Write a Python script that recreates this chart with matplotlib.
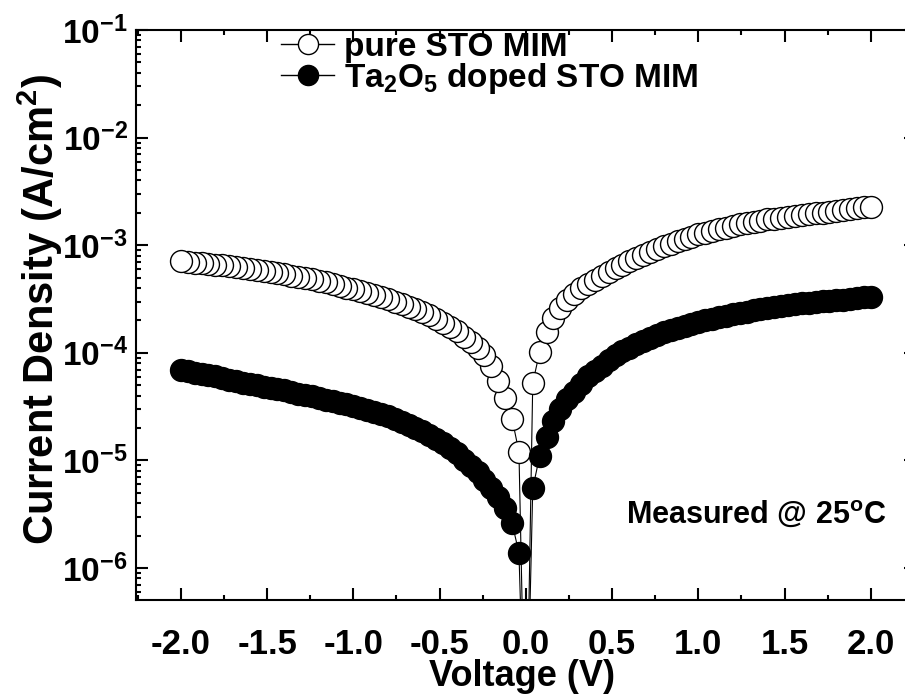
import numpy as np
import matplotlib
matplotlib.use("Agg")
from matplotlib import pyplot as plt
from matplotlib.lines import Line2D
from matplotlib.ticker import MultipleLocator, LogLocator, NullFormatter, FuncFormatter, FormatStrFormatter

plt.rcParams['font.family'] = 'Liberation Sans'
plt.rcParams['font.weight'] = 'bold'
plt.rcParams['mathtext.fontset'] = 'custom'
plt.rcParams['mathtext.rm'] = 'Liberation Sans'
plt.rcParams['mathtext.bf'] = 'Liberation Sans:bold'
plt.rcParams['mathtext.default'] = 'regular'

# bias sweep, 0.04 V steps (V)
VOLTAGE = [-2.00, -1.96, -1.92, -1.88, -1.84, -1.80, -1.76, -1.72, -1.68, -1.64,
           -1.60, -1.56, -1.52, -1.48, -1.44, -1.40, -1.36, -1.32, -1.28, -1.24,
           -1.20, -1.16, -1.12, -1.08, -1.04, -1.00, -0.96, -0.92, -0.88, -0.84,
           -0.80, -0.76, -0.72, -0.68, -0.64, -0.60, -0.56, -0.52, -0.48, -0.44,
           -0.40, -0.36, -0.32, -0.28, -0.24, -0.20, -0.16, -0.12, -0.08, -0.04,
           0.00,
           0.04, 0.08, 0.12, 0.16, 0.20, 0.24, 0.28, 0.32, 0.36, 0.40,
           0.44, 0.48, 0.52, 0.56, 0.60, 0.64, 0.68, 0.72, 0.76, 0.80,
           0.84, 0.88, 0.92, 0.96, 1.00, 1.04, 1.08, 1.12, 1.16, 1.20,
           1.24, 1.28, 1.32, 1.36, 1.40, 1.44, 1.48, 1.52, 1.56, 1.60,
           1.64, 1.68, 1.72, 1.76, 1.80, 1.84, 1.88, 1.92, 1.96, 2.00]

# current density (A/cm2), pure STO MIM
J_PURE = [7.08e-4, 6.98e-4, 6.89e-4, 6.79e-4, 6.70e-4, 6.61e-4, 6.49e-4, 6.37e-4, 6.25e-4, 6.14e-4,
          6.03e-4, 5.89e-4, 5.75e-4, 5.62e-4, 5.50e-4, 5.37e-4, 5.22e-4, 5.08e-4, 4.94e-4, 4.81e-4,
          4.68e-4, 4.51e-4, 4.35e-4, 4.19e-4, 4.04e-4, 3.89e-4, 3.73e-4, 3.58e-4, 3.44e-4, 3.30e-4,
          3.16e-4, 2.99e-4, 2.83e-4, 2.68e-4, 2.54e-4, 2.40e-4, 2.23e-4, 2.07e-4, 1.91e-4, 1.74e-4,
          1.58e-4, 1.41e-4, 1.26e-4, 1.10e-4, 9.55e-5, 7.59e-5, 5.50e-5, 3.80e-5, 2.45e-5, 1.20e-5,
          1.0e-8,
          5.25e-5, 1.02e-4, 1.55e-4, 2.09e-4, 2.63e-4, 3.09e-4, 3.55e-4, 3.98e-4, 4.37e-4, 4.79e-4,
          5.20e-4, 5.65e-4, 6.11e-4, 6.58e-4, 7.08e-4, 7.55e-4, 8.05e-4, 8.59e-4, 9.16e-4, 9.77e-4,
          1.03e-3, 1.09e-3, 1.15e-3, 1.20e-3, 1.26e-3, 1.31e-3, 1.36e-3, 1.41e-3, 1.46e-3, 1.51e-3,
          1.56e-3, 1.60e-3, 1.64e-3, 1.69e-3, 1.74e-3, 1.77e-3, 1.80e-3, 1.84e-3, 1.87e-3, 1.91e-3,
          1.94e-3, 1.98e-3, 2.01e-3, 2.05e-3, 2.09e-3, 2.13e-3, 2.17e-3, 2.21e-3, 2.25e-3, 2.29e-3]

# current density (A/cm2), Ta2O5 doped STO MIM
J_DOPED = [6.92e-5, 6.73e-5, 6.55e-5, 6.37e-5, 6.19e-5, 6.03e-5, 5.83e-5, 5.65e-5, 5.47e-5, 5.30e-5,
           5.13e-5, 4.99e-5, 4.85e-5, 4.72e-5, 4.59e-5, 4.47e-5, 4.33e-5, 4.19e-5, 4.06e-5, 3.93e-5,
           3.80e-5, 3.68e-5, 3.56e-5, 3.45e-5, 3.34e-5, 3.24e-5, 3.09e-5, 2.95e-5, 2.82e-5, 2.69e-5,
           2.57e-5, 2.41e-5, 2.26e-5, 2.12e-5, 1.99e-5, 1.86e-5, 1.71e-5, 1.58e-5, 1.44e-5, 1.30e-5,
           1.17e-5, 1.02e-5, 8.91e-6, 7.76e-6, 6.61e-6, 5.50e-6, 4.57e-6, 3.63e-6, 2.63e-6, 1.38e-6,
           1.0e-8,
           5.50e-6, 1.10e-5, 1.66e-5, 2.34e-5, 3.02e-5, 3.72e-5, 4.37e-5, 5.13e-5, 6.03e-5, 6.76e-5,
           7.59e-5, 8.51e-5, 9.55e-5, 1.04e-4, 1.12e-4, 1.20e-4, 1.29e-4, 1.38e-4, 1.46e-4, 1.55e-4,
           1.62e-4, 1.70e-4, 1.78e-4, 1.86e-4, 1.95e-4, 2.01e-4, 2.08e-4, 2.15e-4, 2.22e-4, 2.29e-4,
           2.36e-4, 2.42e-4, 2.49e-4, 2.56e-4, 2.63e-4, 2.68e-4, 2.73e-4, 2.78e-4, 2.83e-4, 2.88e-4,
           2.92e-4, 2.96e-4, 3.01e-4, 3.05e-4, 3.09e-4, 3.13e-4, 3.18e-4, 3.22e-4, 3.27e-4, 3.31e-4]

LABELS = ["pure STO MIM", r"Ta$_2$O$_5$ doped STO MIM"]
FACES = ["white", "black"]

fig = plt.figure(figsize=(9.05, 6.95), dpi=100)
# right spine is cut off in the original, so the axes runs past the figure edge
ax = fig.add_axes([0.1503, 0.1367, 0.8615, 0.8201])

v = np.array(VOLTAGE)
handles = []
for j, face, lab in zip((J_PURE, J_DOPED), FACES, LABELS):
    j = np.array(j)
    ax.plot(v, j, '-', color='k', lw=0.8, zorder=2)
    # each sweep starts at 0 V, so outer points sit on top
    neg = v < 0
    pos = v > 0
    for vv, jj in ((v[neg][::-1], j[neg][::-1]), (v[pos], j[pos])):
        ax.plot(vv, jj, 'o', ls='none', ms=15.8, mfc=face, mec='k', mew=1.0, zorder=3)
    handles.append(Line2D([], [], color='k', lw=1.0, marker='o', ms=14.5,
                          mfc=face, mec='k', mew=1.0, label=lab))

ax.set_yscale('log')
ax.set_ylim(5.05e-7, 1e-1)
ax.set_xlim(-2.26, 2.26)

ax.xaxis.set_major_locator(MultipleLocator(0.5))
ax.xaxis.set_minor_locator(MultipleLocator(0.25))
ax.xaxis.set_major_formatter(FormatStrFormatter('%.1f'))
ax.yaxis.set_major_locator(LogLocator(base=10, numticks=20))
ax.yaxis.set_minor_locator(LogLocator(base=10, subs=np.arange(2, 10), numticks=20))
ax.yaxis.set_minor_formatter(NullFormatter())
ax.yaxis.set_major_formatter(FuncFormatter(lambda y, _: r'$10^{%d}$' % round(np.log10(y))))

ax.tick_params(which='both', direction='in', top=True, right=True, width=1.5)
ax.tick_params(which='major', length=8.6)
ax.tick_params(which='minor', length=3.6)
ax.tick_params(axis='x', labelsize=25, pad=20)
ax.tick_params(axis='y', labelsize=24, pad=6)
for s in ax.spines.values():
    s.set_linewidth(1.5)

ax.set_xlabel('Voltage (V)', fontsize=26, fontweight='bold')
ax.xaxis.set_label_coords(0.495, -0.151)
ax.xaxis.label.set_va('baseline')
ax.set_ylabel(r'Current Density (A/cm$^2$)', fontsize=30, fontweight='bold')
ax.yaxis.set_label_coords(-0.123, 0.509)
ax.yaxis.label.set_va('center')

ax.legend(handles=handles, loc='upper left', bbox_to_anchor=(0.186, 0.997),
          frameon=False, fontsize=24, handlelength=1.6, handletextpad=0.3,
          labelspacing=-0.05, borderpad=0, borderaxespad=0)

ax.text(0.962, 0.149, r'Measured @ 25$^o$C', transform=ax.transAxes,
        ha='right', va='center', fontsize=22, fontweight='bold')

fig.savefig('out.png', dpi=100)
